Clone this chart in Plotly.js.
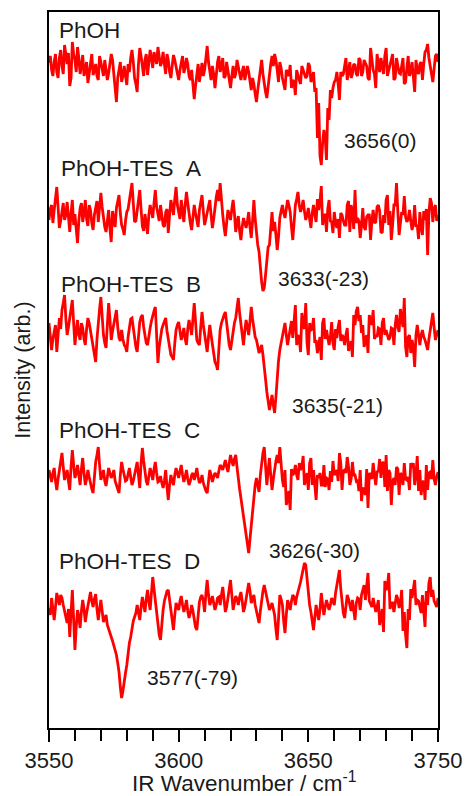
<!DOCTYPE html>
<html>
<head>
<meta charset="utf-8">
<script src="https://cdn.plot.ly/plotly-3.0.1.min.js"></script>
<style>html,body{margin:0;padding:0;background:#fff;}#chart{width:465px;height:796px;}</style>
</head>
<body>
<div id="chart"></div>
<script>
// Spectra sampled every 0.5 cm-1 starting at 3550 cm-1 (intensity, arbitrary units, up = positive).
// "...Whole" arrays hold the readings at integer wavenumbers, "...Half" arrays those at x.5 wavenumbers.
const wnStart = 3550;
const wnStep = 0.5;

const seriesNames = ["PhOH", "PhOH-TES\u00a0\u00a0A", "PhOH-TES\u00a0\u00a0B", "PhOH-TES\u00a0\u00a0C", "PhOH-TES\u00a0\u00a0D"];
const peakLabels = ["3656(0)", "3633(-23)", "3635(-21)", "3626(-30)", "3577(-79)"];
const offsets = [660, 511, 395, 251, 125];

const phohWhole = [5,-2,6,-4,10,2,23,4,-18,26,8,21,-6,13,-2,-15,8,-7,4,-12,6,-8,0,-5,14,-4,-34,-2,-14,2,-17,-4,18,-10,-24,20,-2,8,-7,18,0,8,21,2,16,-6,8,-10,13,0,-12,6,-5,10,-8,-2,-31,-6,-14,5,-2,22,-4,2,-20,6,-4,10,-8,-2,-20,2,-6,0,-12,2,-6,-4,-22,-16,-34,-12,8,-17,-30,-6,12,14,-2,6,-10,-22,-4,3,-12,-27,-8,-16,-2,-10,5,-14,-4,-20,-35,-97,-62,-92,-52,-30,-14,-4,-32,-8,2,-12,6,-6,3,-8,8,-4,4,-10,20,-2,-20,2,10,-6,20,-2,8,-12,10,-5,4,-16,0,-8,6,-24,-2,4,-12,16,24,0,-14,12,6];
const phohHalf = [12,-8,14,-10,18,-6,12,15,-10,14,-4,10,2,-8,6,-6,14,-3,-8,12,-2,8,-12,4,8,-16,-10,6,-8,-6,4,10,6,-16,4,12,-8,14,4,10,16,4,12,6,4,14,-4,2,8,-6,-2,12,0,4,-12,-14,-18,4,-4,-8,10,6,-12,-6,-4,12,2,-10,6,-12,-8,-10,8,-8,-4,-12,2,-14,-10,-26,-22,-2,-6,-24,-16,4,2,8,-14,0,-16,-2,-8,-20,-14,-2,-12,2,-6,-8,2,-10,-24,-70,-88,-75,-70,-40,-22,-20,-12,-16,-4,-6,10,-2,-10,4,-6,10,-8,8,2,-12,8,-6,14,-4,2,12,-8,4,14,-10,2,-6,10,-14,12,-4,-10,8,-6,6,4,18,10,-6,2,14];

const tesAWhole = [-3,12,7,30,-11,5,-3,15,-15,17,3,-26,9,-5,17,-9,7,-13,11,-5,24,-1,-15,7,-25,-3,9,22,-8,-18,5,17,34,-5,7,27,-9,3,-17,12,-1,27,2,12,-8,5,-16,17,2,30,5,17,-5,25,2,-13,12,-5,7,22,-8,5,17,-11,12,27,34,2,-19,7,-3,17,-15,1,-23,-1,-11,5,-21,17,-18,-35,-65,-71,-41,-28,5,-5,-33,-1,12,-1,17,5,-23,12,25,5,17,-3,9,-11,12,-5,7,31,2,-15,17,-5,5,-11,-21,2,-8,12,-15,5,27,-1,-21,9,-13,2,-23,7,-5,12,-15,2,17,-8,-23,12,34,-18,5,21,-5,7,-13,12,-8,5,-18,-3,-38,19,-5,12,2];
const tesAHalf = [8,-6,20,10,-4,14,2,-6,4,-8,-12,-4,14,4,-2,12,-6,2,16,8,10,-10,-4,-12,6,-10,16,4,-12,-4,8,24,14,-4,18,8,-14,-6,2,6,14,10,-4,4,-10,8,2,10,18,12,-2,8,12,14,-6,2,4,-10,14,6,-2,12,2,-2,20,16,14,-10,-6,2,8,4,-6,-14,-10,-6,-4,-10,-4,-2,-28,-52,-74,-58,-30,-10,-14,-18,-20,6,4,8,12,-10,-6,18,12,10,6,2,-2,4,2,18,16,-8,2,8,-4,-16,-6,-2,4,-4,-8,16,12,-12,-6,-4,-8,-10,0,2,-4,-6,10,6,-16,-6,22,6,-8,12,6,-6,2,0,-2,-4,-6,-10,-22,-10,6,8,4,14,8,-4];

const tesBWhole = [10,-17,3,-19,15,23,38,-2,15,33,-12,13,-7,5,-12,15,3,-12,-29,13,36,-2,-15,30,-7,8,23,-5,3,-12,-19,8,15,-7,-19,11,18,-5,-12,5,18,26,-30,-2,8,15,-7,-22,-27,3,11,-7,5,-12,13,-2,30,-7,-12,21,-2,-19,8,-12,-29,-37,3,15,21,-5,-17,3,15,35,8,-12,13,-2,26,3,-7,-20,-12,-32,-59,-77,-62,-80,-42,-17,-3,10,-12,5,-5,28,-2,-19,8,30,-22,3,15,-7,-12,-27,15,3,-12,11,-17,-5,13,-2,-12,5,-12,-24,8,26,18,8,-7,-20,13,23,-2,5,-12,15,3,-7,5,-12,18,1,13,35,-24,-2,-7,-34,8,-12,3,-7,-17,3,20,-7,3];
const tesBHalf = [-4,-6,8,-2,4,30,14,6,24,10,2,-2,10,-6,4,10,-8,-18,-6,24,16,-10,8,14,2,16,6,-8,-6,-14,-4,14,4,-14,-4,16,6,-10,-2,12,22,-6,-14,4,12,2,-16,-24,-10,8,2,-2,-6,4,6,14,12,-10,6,8,-12,-4,-2,-22,-32,-16,10,18,8,-12,-6,10,24,20,-4,2,6,12,14,-4,-14,-16,-22,-46,-70,-70,-72,-64,-28,-10,4,-2,-4,12,12,-12,-6,20,4,-10,10,4,-10,-20,-4,10,-6,-4,-4,-10,4,6,-8,-4,-2,-18,-8,18,22,12,0,-14,-2,18,8,-6,-4,4,10,-2,-2,-4,4,8,6,24,6,-14,-4,-20,-14,-2,-6,-2,-4,-12,-6,12,6,-2];

const tesCWhole = [7,-5,9,-13,7,24,-3,7,-13,27,-1,12,-8,19,-8,7,-8,-16,15,30,-3,7,-9,9,-1,7,-8,-16,15,2,-3,9,-8,2,15,-11,29,2,-8,9,-3,15,-5,1,-11,7,-23,2,-8,9,-1,12,-5,7,-8,2,-3,9,-6,2,-11,-16,7,-5,4,-1,12,7,17,5,22,11,22,-3,-21,-41,-58,-76,-48,-18,-1,-15,15,30,-8,19,-13,9,22,30,-3,7,-23,-33,2,12,-3,7,21,-1,-13,19,7,-23,-1,-8,12,-1,-13,-5,2,7,24,-13,7,20,-8,15,2,-3,7,-11,-18,-31,2,14,-8,5,-1,15,22,7,-28,-1,10,-18,2,14,-3,-13,9,-8,21,7,-5,-23,-13,5,17,-8,5];
const tesCHalf = [2,4,-4,-2,14,10,2,-4,10,12,4,2,8,4,-2,0,-12,2,22,12,2,-4,0,4,2,-4,-12,2,8,-4,4,0,-4,10,2,14,16,-4,0,4,8,4,-4,-6,-4,-10,-8,-4,2,4,6,2,0,-2,-4,4,2,0,-4,-6,-14,-2,2,0,2,6,10,12,10,14,16,18,10,-12,-30,-50,-68,-62,-32,-8,-8,2,24,10,6,2,-2,16,14,12,-10,-28,-14,8,4,2,14,10,-8,4,14,-8,-10,2,4,-8,-10,-2,6,16,4,-4,14,6,4,10,-2,2,-4,-14,-24,-12,8,4,-2,2,6,18,14,-10,-14,4,-4,-8,8,4,-8,-2,0,14,14,2,-14,-18,-4,12,4,-2,-2,0];

const tesDWhole = [-5,5,-17,10,-2,5,-9,-20,-34,13,-47,-7,-25,3,-19,-2,11,-4,9,-17,3,-19,-12,-27,-34,-42,-52,-69,-95,-77,-62,-40,-25,-14,-2,-17,6,-9,13,-7,26,3,-25,-37,-7,8,13,-9,-27,0,-7,7,-9,3,-15,-2,-17,-27,1,8,-9,23,-2,7,-7,5,-2,16,-9,3,23,-7,7,-2,11,-9,5,20,0,8,-9,-20,3,18,5,-7,0,-12,-37,8,-2,-30,3,-7,8,-2,13,21,35,38,8,-9,-27,-2,-17,10,-12,3,-7,5,-2,18,33,-2,-15,8,-2,3,-17,5,-7,13,3,30,-2,5,-9,3,-12,-29,13,30,0,-9,8,-5,13,-9,-45,-17,5,23,3,-5,8,-24,-2,26,13,-2,5];
const tesDHalf = [-12,-6,-4,4,8,-2,-12,-6,-10,-16,-24,-14,-8,-6,-10,6,2,4,-6,-6,-8,-16,-22,-30,-38,-48,-60,-84,-88,-70,-50,-34,-18,-10,-10,-4,-2,4,2,10,14,-14,-32,-20,2,12,2,-20,-12,-4,2,-2,-4,-8,-10,-8,-24,-10,6,2,10,8,2,0,-2,6,8,4,-4,14,8,0,4,6,2,-4,14,12,4,-2,-16,-8,12,12,-2,-4,-6,-26,-16,4,-18,-12,-2,2,6,6,16,28,40,22,-2,-20,-14,-10,-6,-2,-4,-2,-2,2,10,26,14,-10,-4,4,-8,-6,0,4,8,18,14,2,-4,-4,-4,-22,-6,22,16,-6,0,2,4,0,-28,-32,-6,14,14,-2,2,-10,-14,12,20,6,2,-4];

const wholeSets = [phohWhole, tesAWhole, tesBWhole, tesCWhole, tesDWhole];
const halfSets = [phohHalf, tesAHalf, tesBHalf, tesCHalf, tesDHalf];

// label positions (wavenumber, stacked-intensity units)
const nameLabelPos = [[3553.1, 698], [3553.9, 560], [3553.9, 444], [3553.1, 298], [3553.1, 167]];
const peakLabelPos = [[3662.9, 588], [3637.4, 450], [3642.8, 323], [3633.9, 178], [3587.1, 51]];

const majorTickVals = [3550, 3600, 3650, 3700];
const majorTickText = ["3550", "3600", "3650", "3750"];
const xTitle = "IR Wavenumber / cm<sup>-1</sup>";
const yTitle = "Intensity (arb.)";

const FONT = "Liberation Sans, Arial, Helvetica, sans-serif";
const TXT = "#1a1a1a";

function merge(whole, half, off) {
  const out = [];
  for (let i = 0; i < whole.length; i++) {
    out.push(whole[i] + off);
    if (i < half.length) out.push(half[i] + off);
  }
  return out;
}

const traces = wholeSets.map((w, i) => ({
  type: "scatter",
  mode: "lines",
  x0: wnStart,
  dx: wnStep,
  y: merge(w, halfSets[i], offsets[i]),
  line: {color: "#ff0000", width: 2.8},
  hoverinfo: "skip",
  showlegend: false
}));

const annotations = [];
seriesNames.forEach((n, i) => {
  annotations.push({x: nameLabelPos[i][0], y: nameLabelPos[i][1], xref: "x", yref: "y", text: n,
    showarrow: false, xanchor: "left", yanchor: "middle", font: {family: FONT, size: 22.5, color: TXT}});
  annotations.push({x: peakLabelPos[i][0], y: peakLabelPos[i][1], xref: "x", yref: "y", text: peakLabels[i],
    showarrow: false, xanchor: "left", yanchor: "middle", font: {family: FONT, size: 21, color: TXT}});
});
annotations.push({x: 0.5, y: -0.075, xref: "paper", yref: "paper", text: xTitle, showarrow: false,
  xanchor: "center", yanchor: "middle", font: {family: FONT, size: 22.5, color: TXT}});

const layout = {
  width: 465, height: 796,
  margin: {l: 49, r: 27, t: 12, b: 68},
  paper_bgcolor: "#fff", plot_bgcolor: "#fff",
  showlegend: false,
  font: {family: FONT, size: 22, color: TXT},
  xaxis: {
    range: [3550, 3700],
    tickvals: majorTickVals, ticktext: majorTickText,
    ticks: "outside", ticklen: 12, tickwidth: 2, tickcolor: "#000",
    minor: {tick0: 3550, dtick: 10, ticks: "outside", ticklen: 11, tickwidth: 2, tickcolor: "#000"},
    showline: true, linecolor: "#000", linewidth: 2, mirror: true,
    showgrid: false, zeroline: false,
    tickfont: {family: FONT, size: 22, color: TXT}
  },
  yaxis: {
    range: [0, 716],
    showticklabels: false, ticks: "",
    showline: true, linecolor: "#000", linewidth: 2, mirror: true,
    showgrid: false, zeroline: false,
    title: {text: yTitle, font: {family: FONT, size: 21.5, color: TXT}, standoff: 10}
  },
  annotations: annotations
};

Plotly.newPlot("chart", traces, layout, {displayModeBar: false, staticPlot: true});
</script>
</body>
</html>
